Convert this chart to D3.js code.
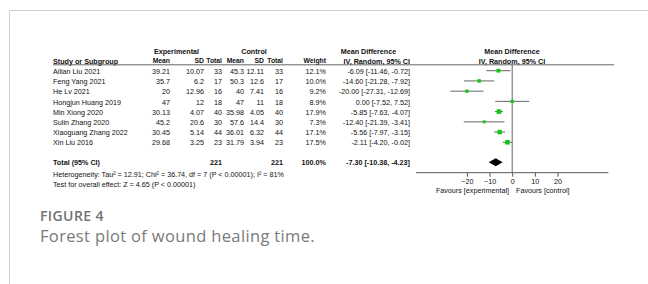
<!DOCTYPE html>
<html>
<head>
<meta charset="utf-8">
<script src="https://cdn.jsdelivr.net/npm/d3@7"></script>
<style>
  body { margin: 0; background: #fff; }
  svg { display: block; }
  .tbl { font-family: "Liberation Sans", Arial, sans-serif; font-size: 7.2px; fill: #111; }
  .b { font-weight: bold; }
  .h { font-size: 6.8px; }
</style>
</head>
<body>
<svg id="chart" width="648" height="284"></svg>
<script>
// study rows
const studies = ["Ailian Liu 2021", "Feng Yang 2021", "He Lv 2021", "Hongjun Huang 2019",
  "Min Xiong 2020", "Sulin Zhang 2020", "Xiaoguang Zhang 2022", "Xin Liu 2016"];
const expMean = ["39.21", "35.7", "20", "47", "30.13", "45.2", "30.45", "29.68"];
const expSD = ["10.07", "6.2", "12.96", "12", "4.07", "20.6", "5.14", "3.25"];
const expN = [33, 17, 16, 18, 40, 30, 44, 23];
const ctlMean = ["45.3", "50.3", "40", "47", "35.98", "57.6", "36.01", "31.79"];
const ctlSD = ["12.11", "12.6", "7.41", "11", "4.05", "14.4", "6.32", "3.94"];
const ctlN = [33, 17, 16, 18, 40, 30, 44, 23];
const weights = [12.1, 10.0, 9.2, 8.9, 17.9, 7.3, 17.1, 17.5];
const md = [-6.09, -14.60, -20.00, 0.00, -5.85, -12.40, -5.56, -2.11];
const ciLow = [-11.46, -21.28, -27.31, -7.52, -7.63, -21.39, -7.97, -4.20];
const ciHigh = [-0.72, -7.92, -12.69, 7.52, -4.07, -3.41, -3.15, -0.02];

// pooled estimate
const totalMD = -7.30;
const totalLow = -10.38;
const totalHigh = -4.23;
const totalExpN = 221;
const totalCtlN = 221;

const axisTicks = [-20, -10, 0, 10, 20];

const svg = d3.select("#chart");

// card frame
svg.append("line").attr("x1", 9.5).attr("x2", 648).attr("y1", 10.5).attr("y2", 10.5)
  .attr("stroke", "#cfcfcf");
svg.append("line").attr("x1", 9.5).attr("x2", 9.5).attr("y1", 10.5).attr("y2", 284)
  .attr("stroke", "#cfcfcf");

// scales
const x = d3.scaleLinear().domain([-42.5, 42.5]).range([416, 608.4]);
const y = d3.scalePoint().domain(studies).range([70.7, 142.3]);
const sq = d3.scaleSqrt().domain([0, 17.9]).range([0, 4.6]);

const g = svg.append("g").attr("class", "tbl");

function txt(xp, yp, s, anchor, cls) {
  g.append("text")
    .attr("x", xp).attr("y", yp).attr("dy", "0.35em")
    .attr("text-anchor", anchor || "start")
    .attr("class", cls || null)
    .text(s);
}

// column headers
txt(176.5, 51, "Experimental", "middle", "b");
txt(254, 51, "Control", "middle", "b");
txt(368.5, 51, "Mean Difference", "middle", "b");
txt(512, 51, "Mean Difference", "middle", "b");

txt(53, 61, "Study or Subgroup", "start", "b");
txt(170, 61, "Mean", "end", "b h");
txt(204, 61, "SD", "end", "b h");
txt(222, 61, "Total", "end", "b h");
txt(244, 61, "Mean", "end", "b h");
txt(264, 61, "SD", "end", "b h");
txt(283, 61, "Total", "end", "b h");
txt(326, 61, "Weight", "end", "b h");
txt(410, 61, "IV, Random, 95% CI", "end", "b");
txt(512, 61, "IV, Random, 95% CI", "middle", "b");

svg.append("line").attr("x1", 53).attr("x2", 614).attr("y1", 64.8).attr("y2", 64.8)
  .attr("stroke", "#555").attr("stroke-width", 0.9);

// study rows
studies.forEach((s, i) => {
  const yy = y(s) + 0.6;
  txt(53, yy, s);
  txt(170, yy, expMean[i], "end");
  txt(204, yy, expSD[i], "end");
  txt(222, yy, expN[i], "end");
  txt(244, yy, ctlMean[i], "end");
  txt(264, yy, ctlSD[i], "end");
  txt(283, yy, ctlN[i], "end");
  txt(326, yy, weights[i].toFixed(1) + "%", "end");
  txt(410, yy, `${md[i].toFixed(2)} [${ciLow[i].toFixed(2)}, ${ciHigh[i].toFixed(2)}]`, "end");
});

// total row
const totalY = 162.6;
txt(53, totalY, "Total (95% CI)", "start", "b");
txt(222, totalY, totalExpN, "end", "b");
txt(283, totalY, totalCtlN, "end", "b");
txt(326, totalY, "100.0%", "end", "b");
txt(410, totalY, `${totalMD.toFixed(2)} [${totalLow.toFixed(2)}, ${totalHigh.toFixed(2)}]`, "end", "b");
txt(53, 174.3, "Heterogeneity: Tau² = 12.91; Chi² = 36.74, df = 7 (P < 0.00001); I² = 81%");
txt(53, 184.3, "Test for overall effect: Z = 4.65 (P < 0.00001)");

// plot: zero line and axis
const axisY = 172.7;
svg.append("line").attr("x1", x(0)).attr("x2", x(0)).attr("y1", 64.8).attr("y2", axisY)
  .attr("stroke", "#555").attr("stroke-width", 0.9);

const axis = d3.axisBottom(x).tickValues(axisTicks).tickSize(4).tickPadding(2);
const ax = svg.append("g").attr("transform", `translate(0,${axisY})`).call(axis);
ax.select(".domain").attr("stroke", "#555").attr("d", `M${x.range()[0]},0H${x.range()[1]}`);
ax.selectAll(".tick line").attr("stroke", "#555");
ax.selectAll(".tick text")
  .attr("font-family", "Liberation Sans, Arial, sans-serif")
  .attr("font-size", 7.2).attr("fill", "#111");

txt(509, 190.6, "Favours [experimental]", "end");
txt(516, 190.6, "Favours [control]", "start");

// confidence intervals and squares
const marks = svg.append("g");
marks.selectAll("line.ci")
  .data(studies)
  .join("line")
  .attr("class", "ci")
  .attr("x1", (d, i) => x(ciLow[i]))
  .attr("x2", (d, i) => x(ciHigh[i]))
  .attr("y1", (d) => y(d))
  .attr("y2", (d) => y(d))
  .attr("stroke", "#666")
  .attr("stroke-width", 1);

marks.selectAll("rect.pt")
  .data(studies)
  .join("rect")
  .attr("class", "pt")
  .attr("x", (d, i) => x(md[i]) - sq(weights[i]) / 2)
  .attr("y", (d, i) => y(d) - sq(weights[i]) / 2)
  .attr("width", (d, i) => sq(weights[i]))
  .attr("height", (d, i) => sq(weights[i]))
  .attr("fill", "#15c515");

// pooled diamond
const dY = 162.2;
svg.append("path")
  .attr("d", `M${x(totalLow)},${dY}L${x(totalMD)},${dY - 4}L${x(totalHigh)},${dY}L${x(totalMD)},${dY + 4}Z`)
  .attr("fill", "#000");

// caption
svg.append("text")
  .attr("x", 40).attr("y", 221)
  .attr("font-family", "Open Sans, sans-serif").attr("font-size", 14)
  .attr("font-weight", 600).attr("letter-spacing", 0.4).attr("fill", "#737373")
  .text("FIGURE 4");
svg.append("text")
  .attr("x", 40).attr("y", 242)
  .attr("font-family", "Open Sans, sans-serif").attr("font-size", 16.5)
  .attr("letter-spacing", 0.35).attr("fill", "#7a7a7a")
  .text("Forest plot of wound healing time.");
</script>
</body>
</html>
